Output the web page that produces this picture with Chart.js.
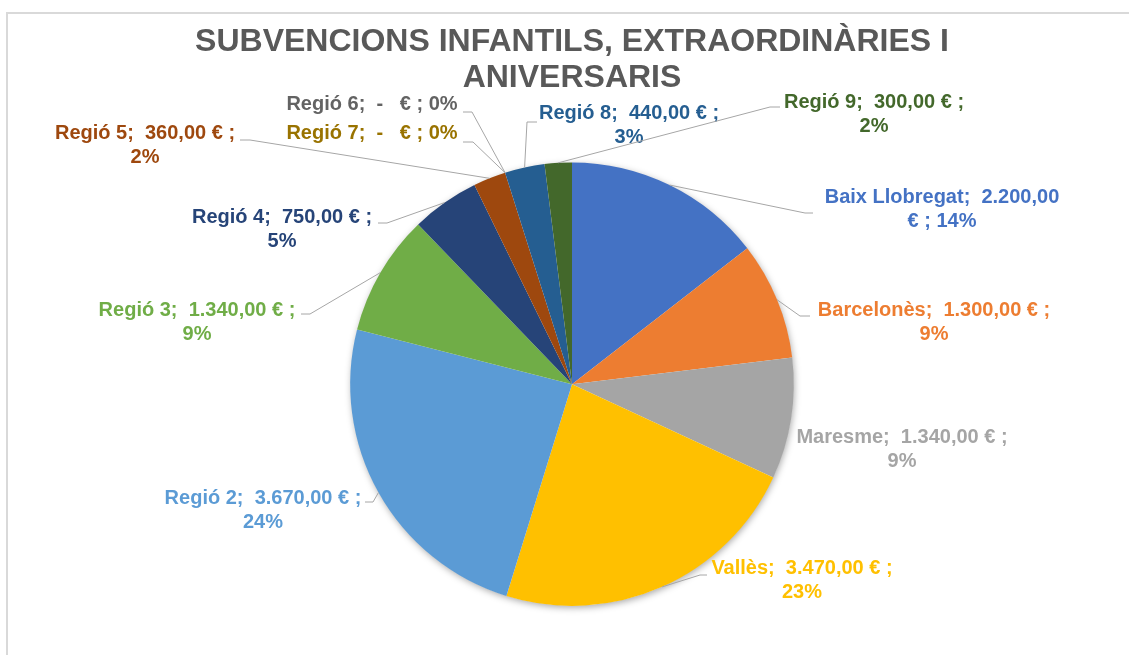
<!DOCTYPE html>
<html>
<head>
<meta charset="utf-8">
<script src="https://cdn.jsdelivr.net/npm/chart.js@4/dist/chart.umd.min.js"></script>
<style>
  html, body { margin: 0; padding: 0; background: #fff; }
  #wrap { position: relative; width: 1129px; height: 655px; }
</style>
</head>
<body>
<div id="wrap"><canvas id="pie" width="1129" height="655"></canvas></div>
<script>
// dades
const regions = ['Baix Llobregat', 'Barcelonès', 'Maresme', 'Vallès', 'Regió 2', 'Regió 3',
                 'Regió 4', 'Regió 5', 'Regió 6', 'Regió 7', 'Regió 8', 'Regió 9'];
const amounts = [2200, 1300, 1340, 3470, 3670, 1340, 750, 360, 0, 0, 440, 300];
const percents = [14, 9, 9, 23, 24, 9, 5, 2, 0, 0, 3, 2]; // tal com surten a l'etiqueta
const sliceColors = ['#4472C4', '#ED7D31', '#A5A5A5', '#FFC000', '#5B9BD5', '#70AD47',
                     '#264478', '#9E480E', '#636363', '#997300', '#255E91', '#43682B'];

// on va cada etiqueta (centre del text, primera línia) i el tros horitzontal de la línia guia
const labelLayout = [
  { x: 942, y: 197, split: 'euro', stub: [813, 213, 805] },
  { x: 934, y: 310, split: 'pct', stub: [810, 316, 800] },
  { x: 902, y: 437, split: 'pct', stub: null },
  { x: 802, y: 568, split: 'pct', stub: [707, 575, 700] },
  { x: 263, y: 498, split: 'pct', stub: [365, 502, 373] },
  { x: 197, y: 310, split: 'pct', stub: [301, 314, 310] },
  { x: 282, y: 217, split: 'pct', stub: [378, 223, 387] },
  { x: 145, y: 133, split: 'pct', stub: [240, 140, 250] },
  { x: 372, y: 104, split: 'none', stub: [463, 112, 472] },
  { x: 372, y: 133, split: 'none', stub: [463, 142, 473] },
  { x: 629, y: 113, split: 'pct', stub: [537, 122, 527] },
  { x: 874, y: 102, split: 'pct', stub: [780, 107, 770] }
];

const FONT = "'Liberation Sans', Arial, sans-serif";

function euros(v) {
  if (v === 0) return '-  ';
  return v.toFixed(2).replace('.', ',').replace(/\B(?=(\d{3})+(?!\d))/g, '.');
}

function labelLines(i) {
  const name = regions[i], val = euros(amounts[i]), pct = percents[i] + '%';
  const split = labelLayout[i].split;
  if (split === 'euro') return [name + ';  ' + val, '€ ; ' + pct];
  if (split === 'none') return [name + ';  ' + val + ' € ; ' + pct];
  return [name + ';  ' + val + ' € ;', pct];
}

// marc gris de la gràfica
const framePlugin = {
  id: 'frame',
  beforeDraw(chart) {
    const ctx = chart.ctx;
    ctx.save();
    ctx.strokeStyle = '#d9d9d9';
    ctx.lineWidth = 2;
    ctx.beginPath();
    ctx.moveTo(7, 700);
    ctx.lineTo(7, 13);
    ctx.lineTo(1200, 13);
    ctx.stroke();
    ctx.restore();
  }
};

// ombra suau sota el pastís
const shadowPlugin = {
  id: 'pieShadow',
  beforeDatasetsDraw(chart) {
    const arc = chart.getDatasetMeta(0).data[0];
    const ctx = chart.ctx;
    ctx.save();
    ctx.shadowColor = 'rgba(0,0,0,0.35)';
    ctx.shadowBlur = 7;
    ctx.shadowOffsetX = 1;
    ctx.shadowOffsetY = 2;
    ctx.fillStyle = '#fff';
    ctx.beginPath();
    ctx.arc(arc.x, arc.y, arc.outerRadius - 0.5, 0, Math.PI * 2);
    ctx.fill();
    ctx.restore();
  }
};

// etiquetes amb línies guia
const labelsPlugin = {
  id: 'sliceLabels',
  afterDatasetsDraw(chart) {
    const ctx = chart.ctx;
    const arcs = chart.getDatasetMeta(0).data;
    ctx.save();
    arcs.forEach((arc, i) => {
      const lay = labelLayout[i];
      if (lay.stub) {
        const mid = (arc.startAngle + arc.endAngle) / 2;
        const px = arc.x + Math.cos(mid) * arc.outerRadius;
        const py = arc.y + Math.sin(mid) * arc.outerRadius;
        ctx.strokeStyle = '#a6a6a6';
        ctx.lineWidth = 1;
        ctx.beginPath();
        ctx.moveTo(lay.stub[0], lay.stub[1]);
        ctx.lineTo(lay.stub[2], lay.stub[1]);
        ctx.lineTo(px, py);
        ctx.stroke();
      }
      ctx.fillStyle = sliceColors[i];
      ctx.font = 'bold 20px ' + FONT;
      ctx.textAlign = 'center';
      ctx.textBaseline = 'middle';
      labelLines(i).forEach((t, k) => ctx.fillText(t, lay.x, lay.y + k * 24));
    });
    ctx.restore();
  }
};

new Chart(document.getElementById('pie'), {
  type: 'pie',
  data: {
    labels: regions,
    datasets: [{
      data: amounts,
      backgroundColor: sliceColors,
      borderWidth: 0
    }]
  },
  options: {
    responsive: false,
    animation: false,
    layout: { padding: { left: 15, right: 0, top: 0, bottom: 49 } },
    plugins: {
      legend: { display: false },
      tooltip: { enabled: false },
      title: {
        display: true,
        text: ['SUBVENCIONS INFANTILS, EXTRAORDINÀRIES I', 'ANIVERSARIS'],
        color: '#595959',
        font: { family: FONT, size: 32, weight: 'bold', lineHeight: 1.1 },
        padding: { top: 25, bottom: 67 }
      }
    }
  },
  plugins: [framePlugin, shadowPlugin, labelsPlugin]
});
</script>
</body>
</html>
